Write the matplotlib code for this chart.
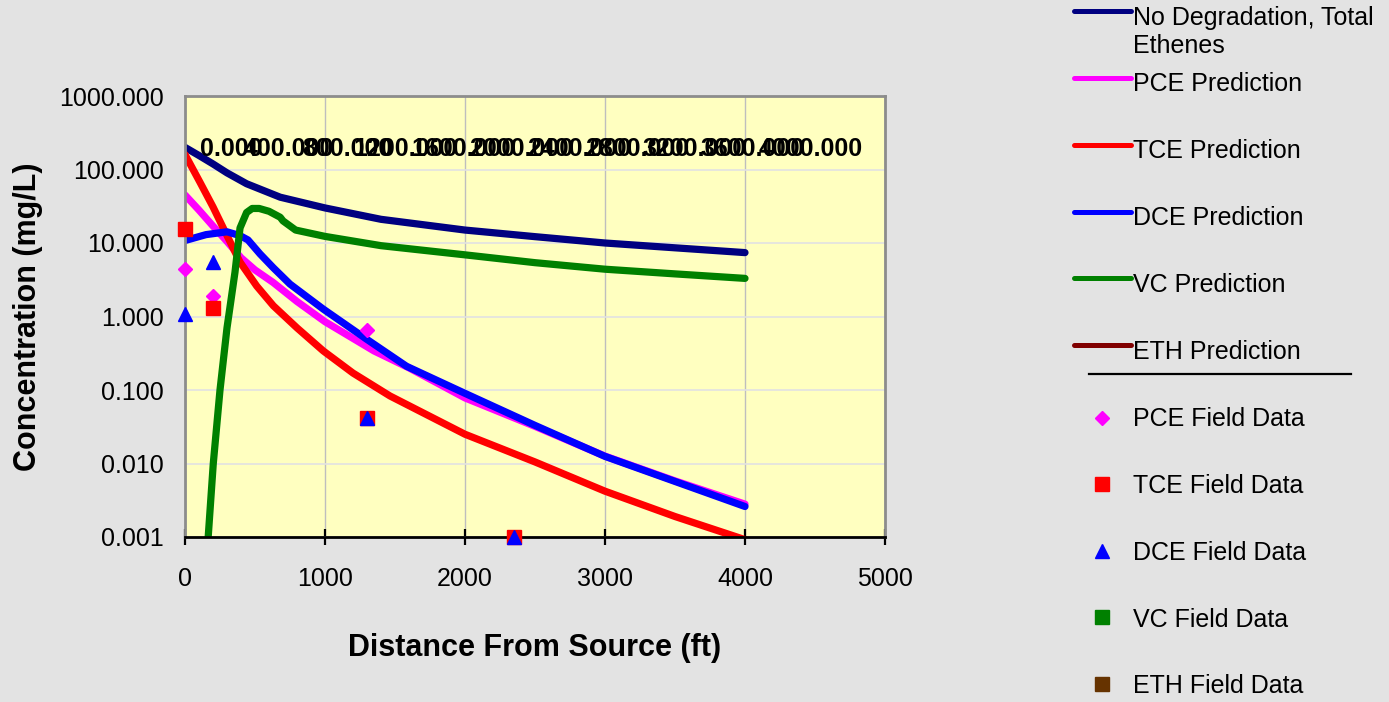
import matplotlib
matplotlib.use('Agg')
import matplotlib.pyplot as plt
from matplotlib.lines import Line2D
from matplotlib.ticker import NullLocator

plt.rcParams['font.family'] = ['Liberation Sans', 'DejaVu Sans']

# model predictions (ft, mg/L)
nodeg_x = [0, 100, 200, 300, 440, 680, 1000, 1400, 2000, 2500, 3000, 3500, 4000]
nodeg_y = [200, 155, 119, 90, 64, 42, 30, 21, 15, 12.2, 10, 8.6, 7.4]

pce_x = [0, 100, 200, 300, 400, 500, 630, 800, 1000, 1350, 1600, 2000, 2500, 3000, 3500, 4000]
pce_y = [45, 28, 17, 10.5, 6.3, 4.3, 2.9, 1.6, 0.85, 0.34, 0.2, 0.078, 0.032, 0.0126, 0.0058, 0.0028]

tce_x = [0, 107, 200, 300, 393, 512, 631, 800, 988, 1200, 1464, 2000, 2500, 3000, 3500, 4000]
tce_y = [160, 67, 31, 12.6, 5.5, 2.6, 1.4, 0.7, 0.34, 0.17, 0.083, 0.025, 0.0105, 0.0042, 0.0019, 0.00092]

dce_x = [0, 150, 300, 393, 450, 536, 631, 750, 988, 1298, 1583, 2000, 2500, 3000, 3500, 4000]
dce_y = [10.8, 13, 14.2, 12.6, 11, 7.1, 4.6, 2.76, 1.26, 0.49, 0.21, 0.09, 0.033, 0.0125, 0.0057, 0.0026]

vc_x = [160, 202, 250, 300, 357, 393, 440, 480, 530, 600, 680, 700, 790, 1000, 1400, 2000, 2500, 3000, 3500, 4000]
vc_y = [0.0007, 0.01, 0.1, 0.7, 4, 16, 26, 29.5, 29.5, 27, 22.4, 20, 15, 12.3, 9.2, 6.9, 5.4, 4.4, 3.8, 3.3]

# field data
pce_field_x = [0, 200, 1300]
pce_field_y = [4.4, 1.9, 0.66]
tce_field_x = [0, 200, 1300, 2350]
tce_field_y = [15.5, 1.29, 0.041, 0.001]
dce_field_x = [0, 200, 1300, 2350]
dce_field_y = [1.07, 5.6, 0.041, 0.001]

x_ticks = [0, 1000, 2000, 3000, 4000, 5000]
y_ticks = [0.001, 0.01, 0.1, 1, 10, 100, 1000]
top_ticks = [0, 400, 800, 1200, 1600, 2000, 2400, 2800, 3200, 3600, 4000]

W, H = 1389, 702
fig = plt.figure(figsize=(W / 100, H / 100), dpi=100, facecolor='#E3E3E3')
ax = fig.add_axes([185 / W, 1 - 537 / H, 700 / W, 441 / H])
ax.set_facecolor('#FFFFC0')

lw = 5.2
ax.plot(nodeg_x, nodeg_y, color='#000080', lw=lw, solid_capstyle='round')
ax.plot(pce_x, pce_y, color='#FF00FF', lw=lw, solid_capstyle='round')
ax.plot(tce_x, tce_y, color='#FF0000', lw=lw, solid_capstyle='round')
ax.plot(dce_x, dce_y, color='#0000FF', lw=lw, solid_capstyle='round')
ax.plot(vc_x, vc_y, color='#008000', lw=lw, solid_capstyle='round')

ax.plot(pce_field_x, pce_field_y, 'D', color='#FF00FF', ms=7, clip_on=False, zorder=5)
ax.plot(tce_field_x, tce_field_y, 's', color='#FF0000', ms=9.5, clip_on=False, zorder=5)
ax.plot(dce_field_x, dce_field_y, '^', color='#0000FF', ms=10, clip_on=False, zorder=5)

ax.set_yscale('log')
ax.set_xlim(0, 5000)
ax.set_ylim(0.001, 1000)
ax.set_yticks(y_ticks, labels=[f'{v:.3f}' for v in y_ticks])
ax.yaxis.set_minor_locator(NullLocator())
ax.set_xticks(x_ticks, labels=[str(v) for v in x_ticks])
ax.tick_params(axis='y', length=0, pad=15.5, labelsize=18)
ax.tick_params(axis='x', direction='inout', length=11.5, width=1.6, pad=15.6,
               labelsize=18, color='black')

ax.grid(axis='x', color='#BEBEBE', lw=1)
ax.grid(axis='y', color='#E2E2E2', lw=1.2)
ax.set_axisbelow(True)

for side in ['left', 'top', 'right']:
    ax.spines[side].set_color('#8C8C8C')
    ax.spines[side].set_linewidth(2)
ax.spines['bottom'].set_color('black')
ax.spines['bottom'].set_linewidth(2)

ax.set_xlabel('Distance From Source (ft)', fontsize=22, fontweight='bold')
ax.set_ylabel('Concentration (mg/L)', fontsize=22, fontweight='bold')
ax.xaxis.set_label_coords(0.5, -0.218)
ax.yaxis.set_label_coords(-0.203, 0.5)

# secondary x axis whose labels sit inside the plot and overlap
ax2 = ax.twiny()
ax2.set_xlim(-317.2, 4510.2)
ax2.set_xticks(top_ticks, labels=[f'{v:.3f}' for v in top_ticks],
               fontsize=18, fontweight='bold')
ax2.tick_params(axis='x', length=0, pad=-46.8)
for s in ax2.spines.values():
    s.set_visible(False)

# legend on the right, laid out by hand
def fx(px):
    return px / W

def fy(py):
    return 1 - py / H

line_items = [
    ('#000080', 11, 'No Degradation, Total', 18),
    ('#FF00FF', 78, 'PCE Prediction', 84),
    ('#FF0000', 145, 'TCE Prediction', 151),
    ('#0000FF', 212, 'DCE Prediction', 218),
    ('#008000', 278, 'VC Prediction', 285),
    ('#800000', 345, 'ETH Prediction', 352),
]
for col, ly, txt, ty in line_items:
    fig.add_artist(Line2D([fx(1074), fx(1131)], [fy(ly), fy(ly)], color=col,
                          lw=3.6, solid_capstyle='round', transform=fig.transFigure))
    fig.text(fx(1133), fy(ty), txt, fontsize=18, va='center', ha='left')
fig.text(fx(1133), fy(46), 'Ethenes', fontsize=18, va='center', ha='left')

fig.add_artist(Line2D([fx(1089), fx(1351)], [fy(374), fy(374)], color='black',
                      lw=1.6, transform=fig.transFigure))

marker_items = [
    ('D', '#FF00FF', 7.5, 418, 'PCE Field Data', 419),
    ('s', '#FF0000', 10, 484, 'TCE Field Data', 486),
    ('^', '#0000FF', 10.5, 551, 'DCE Field Data', 553),
    ('s', '#008000', 10, 617, 'VC Field Data', 620),
    ('s', '#663300', 10, 684, 'ETH Field Data', 686),
]
for mk, col, ms, my, txt, ty in marker_items:
    fig.add_artist(Line2D([fx(1102)], [fy(my)], marker=mk, color=col, ms=ms,
                          lw=0, transform=fig.transFigure))
    fig.text(fx(1133), fy(ty), txt, fontsize=18, va='center', ha='left')

plt.savefig('out.png', dpi=100, facecolor=fig.get_facecolor())
